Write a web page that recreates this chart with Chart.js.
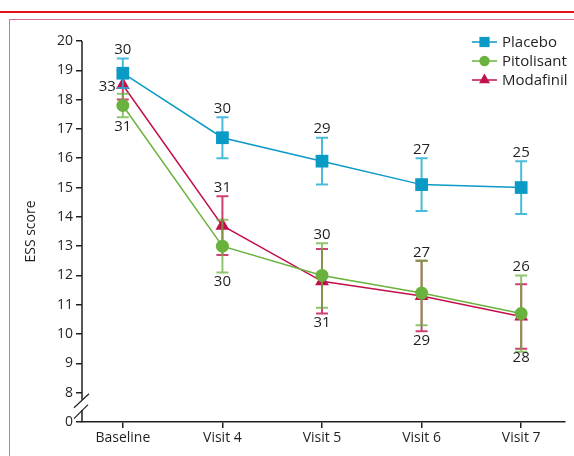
<!DOCTYPE html>
<html>
<head>
<meta charset="utf-8">
<script src="https://cdn.jsdelivr.net/npm/chart.js@4.4.1/dist/chart.umd.min.js"></script>
<style>
  html, body { margin: 0; padding: 0; background: #fff; }
  #wrap { position: relative; width: 574px; height: 456px; overflow: hidden; }
  #redline { position: absolute; left: 0; top: 11px; width: 574px; height: 2px; background: #e3111b; }
  #box { position: absolute; left: 9px; top: 19px; width: 600px; height: 500px; border-left: 1px solid #d6708f; border-top: 1px solid #d6708f; }
  #c { position: absolute; left: 0; top: 0; }
</style>
</head>
<body>
<div id="wrap">
  <div id="redline"></div>
  <div id="box"></div>
  <canvas id="c" width="574" height="456"></canvas>
</div>
<script>
// ---- data ----
const categories = ['Baseline', 'Visit 4', 'Visit 5', 'Visit 6', 'Visit 7'];
const yTickValues = [7, 8, 9, 10, 11, 12, 13, 14, 15, 16, 17, 18, 19, 20];
const yTickLabels = ['0', '8', '9', '10', '11', '12', '13', '14', '15', '16', '17', '18', '19', '20'];

const placeboMean = [18.9, 16.7, 15.9, 15.1, 15.0];
const placeboErr = [0.5, 0.7, 0.8, 0.9, 0.9];
const placeboN = [30, 30, 29, 27, 25];

const pitolisantMean = [17.8, 13.0, 12.0, 11.4, 10.7];
const pitolisantErr = [0.4, 0.9, 1.1, 1.1, 1.3];
const pitolisantN = [31, 30, 30, 27, 26];

const modafinilMean = [18.5, 13.7, 11.8, 11.3, 10.6];
const modafinilErr = [0.5, 1.0, 1.1, 1.2, 1.1];
const modafinilN = [33, 31, 31, 29, 28];

// ---- styles ----
const FONT = '"Open Sans", "DejaVu Sans", sans-serif';
const TXT = '#231f20';
const C_PLA = '#0a9ac6', C_PLA_ERR = 'rgba(40,175,215,0.85)';
const C_PIT = '#6ab23e', C_PIT_ERR = 'rgba(106,178,62,0.75)';
const C_MOD = '#c2104b', C_MOD_ERR = 'rgba(194,16,75,0.8)';

function pts(arr) { return arr.map((v, i) => ({ x: i, y: v })); }

const errorBars = {
  id: 'errorBars',
  beforeDatasetDraw(chart, args) {
    const ds = chart.data.datasets[args.index];
    const xs = chart.scales.x, ys = chart.scales.y, ctx = chart.ctx;
    ctx.save();
    ctx.strokeStyle = ds.errColor;
    ctx.lineWidth = 2;
    ds.data.forEach((p, i) => {
      const e = ds.err[i];
      const x = xs.getPixelForValue(p.x);
      const yt = ys.getPixelForValue(p.y + e), yb = ys.getPixelForValue(p.y - e);
      ctx.beginPath();
      ctx.moveTo(x, yt); ctx.lineTo(x, yb);
      ctx.moveTo(x - 6, yt); ctx.lineTo(x + 6, yt);
      ctx.moveTo(x - 6, yb); ctx.lineTo(x + 6, yb);
      ctx.stroke();
    });
    ctx.restore();
  },
  afterDatasetsDraw(chart) {
    const xs = chart.scales.x, ys = chart.scales.y, ctx = chart.ctx;
    ctx.save();
    ctx.font = '15px ' + FONT;
    ctx.fillStyle = TXT;
    chart.data.datasets.forEach(ds => {
      ds.data.forEach((p, i) => {
        const e = ds.err[i];
        const x = xs.getPixelForValue(p.x);
        const pos = ds.nPos[i];
        const label = String(ds.n[i]);
        if (pos === 'above') {
          ctx.textAlign = 'center'; ctx.textBaseline = 'bottom';
          ctx.fillText(label, x, ys.getPixelForValue(p.y + e) - 1);
        } else if (pos === 'below') {
          ctx.textAlign = 'center'; ctx.textBaseline = 'top';
          ctx.fillText(label, x, ys.getPixelForValue(p.y - e) + 2);
        } else {
          ctx.textAlign = 'right'; ctx.textBaseline = 'middle';
          ctx.fillText(label, x - 7, ys.getPixelForValue(p.y) + 2);
        }
      });
    });
    // legend
    const lx = 472, ly = [42, 61, 80];
    chart.data.datasets.forEach((ds, k) => {
      const y = ly[k];
      ctx.strokeStyle = ds.borderColor; ctx.lineWidth = 1.5;
      ctx.beginPath(); ctx.moveTo(lx, y); ctx.lineTo(lx + 25, y); ctx.stroke();
      ctx.fillStyle = ds.backgroundColor;
      ctx.strokeStyle = ds.backgroundColor;
      Chart.helpers.drawPoint(ctx, { pointStyle: ds.pointStyle, radius: ds.pointRadius * 0.8, borderWidth: 0 }, lx + 12.5, y);
      ctx.fillStyle = TXT;
      ctx.textAlign = 'left'; ctx.textBaseline = 'middle';
      ctx.fillText(ds.label, lx + 30, y + 1);
    });
    // y axis line with break
    const ax = chart.scales.y.right;
    ctx.strokeStyle = '#231f20'; ctx.lineWidth = 1.5;
    ctx.beginPath();
    ctx.moveTo(ax, ys.getPixelForValue(20)); ctx.lineTo(ax, ys.getPixelForValue(8) + 7);
    ctx.moveTo(ax, ys.getPixelForValue(7) - 12); ctx.lineTo(ax, ys.getPixelForValue(7));
    ctx.stroke();
    ctx.lineWidth = 1.2;
    const yb = ys.getPixelForValue(8);
    ctx.beginPath();
    ctx.moveTo(ax - 8, yb + 15); ctx.lineTo(ax + 7, yb + 1);
    ctx.moveTo(ax - 8, yb + 26); ctx.lineTo(ax + 6, yb + 12);
    ctx.stroke();
    ctx.restore();
  }
};

const ctx = document.getElementById('c').getContext('2d');
new Chart(ctx, {
  type: 'line',
  data: {
    datasets: [
      { label: 'Placebo', data: pts(placeboMean), err: placeboErr, n: placeboN,
        nPos: ['above', 'above', 'above', 'above', 'above'],
        borderColor: C_PLA, backgroundColor: C_PLA, errColor: C_PLA_ERR,
        pointStyle: 'rect', pointRadius: 9, pointBorderWidth: 0, borderWidth: 1.5 },
      { label: 'Pitolisant', data: pts(pitolisantMean), err: pitolisantErr, n: pitolisantN,
        nPos: ['below', 'below', 'above', 'above', 'above'],
        borderColor: C_PIT, backgroundColor: C_PIT, errColor: C_PIT_ERR,
        pointStyle: 'circle', pointRadius: 6.5, pointBorderWidth: 0, borderWidth: 1.5 },
      { label: 'Modafinil', data: pts(modafinilMean), err: modafinilErr, n: modafinilN,
        nPos: ['left', 'above', 'below', 'below', 'below'],
        borderColor: C_MOD, backgroundColor: C_MOD, errColor: C_MOD_ERR,
        pointStyle: 'triangle', pointRadius: 8, pointBorderWidth: 0, borderWidth: 1.5 }
    ]
  },
  options: {
    responsive: false,
    animation: false,
    events: [],
    layout: { padding: { left: 0, top: 41, right: 9, bottom: 0 } },
    plugins: { legend: { display: false }, tooltip: { enabled: false } },
    scales: {
      x: {
        type: 'linear', min: -0.41, max: 4.44,
        afterBuildTicks(s) { s.ticks = categories.map((c, i) => ({ value: i })); },
        afterFit(s) { s.height = 34; },
        ticks: { callback: (v) => categories[v], font: { size: 14, family: FONT }, color: TXT, padding: 2, maxRotation: 0, autoSkip: false },
        grid: { drawOnChartArea: false, drawTicks: true, tickLength: 6, color: '#231f20', lineWidth: 1.5 },
        border: { display: true, color: '#231f20', width: 1.5 }
      },
      y: {
        type: 'linear', min: 7, max: 20,
        afterBuildTicks(s) { s.ticks = yTickValues.map(v => ({ value: v })); },
        afterFit(s) { s.width = 82; },
        ticks: { callback: (v) => yTickLabels[yTickValues.indexOf(v)], font: { size: 14, family: FONT }, color: TXT, padding: 3, autoSkip: false },
        grid: { drawOnChartArea: false, drawTicks: true, tickLength: 6, color: '#231f20', lineWidth: 1.5 },
        border: { display: false },
        title: { display: true, text: 'ESS score', font: { size: 14, family: FONT }, color: TXT, padding: { top: 23, bottom: 0 } }
      }
    }
  },
  plugins: [errorBars]
});
</script>
</body>
</html>
